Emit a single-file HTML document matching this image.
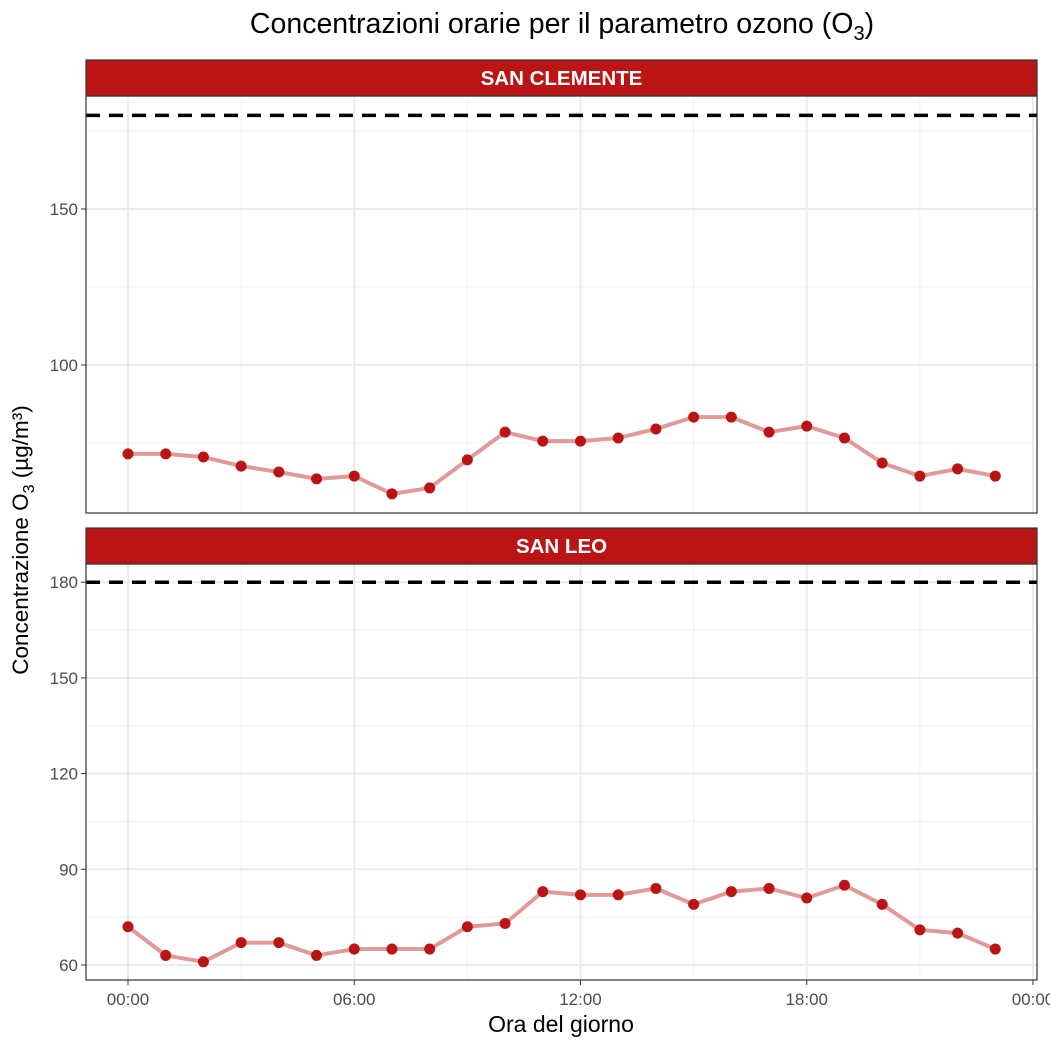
<!DOCTYPE html>
<html><head><meta charset="utf-8">
<style>
body{margin:0;background:#fff;font-family:"Liberation Sans",Arial,sans-serif;}
svg{display:block}
</style></head>
<body>
<svg id="chart" width="1050" height="1050" viewBox="0 0 1050 1050">
<text x="562" y="33" text-anchor="middle" font-size="28.5" fill="#000">Concentrazioni orarie per il parametro ozono (O<tspan font-size="20" dy="7">3</tspan><tspan dy="-7">)</tspan></text>
<text transform="translate(28,540) rotate(-90)" text-anchor="middle" font-size="22.5" fill="#000">Concentrazione O<tspan font-size="16" dy="6">3</tspan><tspan dy="-6"> (µg/m³)</tspan></text>
<text x="561" y="1032" text-anchor="middle" font-size="23" fill="#000">Ora del giorno</text>
<g id="panels"></g>
</svg>
<script>
const hours = [0,1,2,3,4,5,6,7,8,9,10,11,12,13,14,15,16,17,18,19,20,21,22,23];
const sanClemente = [71.5,71.5,70.5,67.6,65.7,63.5,64.4,58.7,60.6,69.6,78.5,75.6,75.6,76.6,79.5,83.3,83.3,78.5,80.4,76.6,68.6,64.4,66.7,64.4];
const sanLeo = [72,63,61,67,67,63,65,65,65,72,73,83,82,82,84,79,83,84,81,85,79,71,70,65];
const xTickLabels = ["00:00","06:00","12:00","18:00","00:00"];
const xTickHours = [0,6,12,18,24];
const ticks1 = [100,150];
const minor1 = [75,125,175];
const ticks2 = [60,90,120,150,180];
const minor2 = [75,105,135,165];
const limitValue = 180;

const NS="http://www.w3.org/2000/svg";
const root=document.getElementById('panels');
const X0=86,X1=1037;
const xs=h=>128+(h/24)*(1033-128);
function mk(tag,attrs,parent){const e=document.createElementNS(NS,tag);for(const k in attrs)e.setAttribute(k,attrs[k]);(parent||root).appendChild(e);return e;}

function panel(cfg){
  const g=mk('g',{});
  
  
  const ys=v=>cfg.yRef+(cfg.vRef-v)*cfg.k;
  mk('rect',{x:X0,y:cfg.top,width:X1-X0,height:cfg.bot-cfg.top,fill:'#fff'},g);
  cfg.minor.forEach(v=>mk('line',{x1:X0,x2:X1,y1:ys(v),y2:ys(v),stroke:'#f0f0f0','stroke-width':1},g));
  [3,9,15,21].forEach(h=>mk('line',{x1:xs(h),x2:xs(h),y1:cfg.top,y2:cfg.bot,stroke:'#f0f0f0','stroke-width':1},g));
  cfg.ticks.forEach(v=>mk('line',{x1:X0,x2:X1,y1:ys(v),y2:ys(v),stroke:'#ebebeb','stroke-width':2},g));
  xTickHours.forEach(h=>mk('line',{x1:xs(h),x2:xs(h),y1:cfg.top,y2:cfg.bot,stroke:'#ebebeb','stroke-width':2},g));
  cfg.ticks.forEach(v=>{
    mk('line',{x1:X0-5,x2:X0,y1:ys(v),y2:ys(v),stroke:'#333','stroke-width':1},g);
    const t=mk('text',{x:X0-8,y:ys(v)+6,'text-anchor':'end','font-size':17,fill:'#4d4d4d'},g);
    t.textContent=v;
    
    
  });
  const l=mk('line',{x1:X0,x2:X1,y1:ys(limitValue),y2:ys(limitValue),stroke:'#000','stroke-width':3.5,'stroke-dasharray':'14,9'},g);
  
  
  const pts=cfg.data.map((v,i)=>xs(hours[i])+','+ys(v)).join(' ');
  const pl=mk('polyline',{points:pts,fill:'none',stroke:'#e09a9a','stroke-width':4,'stroke-linejoin':'round'},g);
  
  
  cfg.data.forEach((v,i)=>{
    const c=mk('circle',{cx:xs(hours[i]),cy:ys(v),r:5.5,fill:'#ba1414'},g);
    
    
  });
  mk('rect',{x:X0,y:cfg.top,width:X1-X0,height:cfg.bot-cfg.top,fill:'none',stroke:'#333','stroke-width':1.2},g);
  const s=mk('rect',{x:X0,y:cfg.top-36,width:X1-X0,height:36,fill:'#ba1414',stroke:'#333','stroke-width':1.2},g);
  
  
  const st=mk('text',{x:(X0+X1)/2,y:cfg.top-11,'text-anchor':'middle','font-size':20.5,'font-weight':'bold',fill:'#fff'},g);
  st.textContent=cfg.label;
  
  
}
panel({name:'san-clemente',label:'SAN CLEMENTE',top:96,bot:513,yRef:365,vRef:100,k:3.12,data:sanClemente,ticks:ticks1,minor:minor1});
panel({name:'san-leo',label:'SAN LEO',top:564,bot:980,yRef:965,vRef:60,k:3.19,data:sanLeo,ticks:ticks2,minor:minor2});
xTickHours.forEach((h,i)=>{
  mk('line',{x1:xs(h),x2:xs(h),y1:980,y2:985,stroke:'#333','stroke-width':1});
  const t=mk('text',{x:xs(h),y:1005,'text-anchor':'middle','font-size':17,fill:'#4d4d4d'});
  t.textContent=xTickLabels[i];
  
  
});
</script>
</body></html>
